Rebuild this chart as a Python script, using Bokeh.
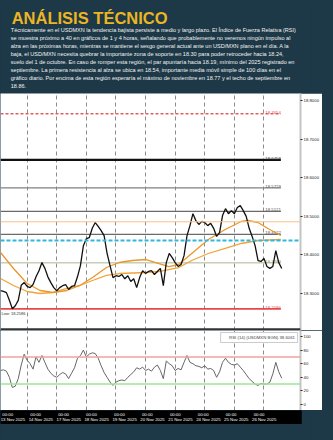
from bokeh.plotting import figure
from bokeh.models import (Range1d, Span, Label, Legend, LegendItem, FixedTicker,
                          NumeralTickFormatter, ColumnDataSource)
from bokeh.layouts import column
from bokeh.embed import file_html
from bokeh.resources import INLINE
from bokeh.core.properties import value

BG = "#1d3846"
FONT = "Liberation Sans"

# ---------------- texts ----------------
title_text = "ANÁLISIS TÉCNICO"
body_lines = [
    "Técnicamente en el USDMXN la tendencia bajista persiste a medio y largo plazo. El Índice de Fuerza Relativa (RSI)",
    "se muestra próximo a 40 en gráficos de 1 y 4 horas, señalando que probablemente no veremos ningún impulso al",
    "alza en las próximas horas, mientras se mantiene el sesgo general actual ante un USD/MXN plano en el día. A la",
    "baja, el USD/MXN necesita quebrar la importante zona de soporte en 18.30 para poder retroceder hacia 18.24,",
    "suelo del 1 de octubre. En caso de romper esta región, el par apuntaría hacia 18.19, mínimo del 2025 registrado en",
    "septiembre. La primera resistencia al alza se ubica en 18.54, importante media móvil simple de 100 días en el",
    "gráfico diario. Por encima de esta región esperaría el máximo de noviembre en 18.77 y el techo de septiembre en",
    "18.86.",
]

# ---------------- x axis (trading days) ----------------
day_index = [0, 1, 2, 3, 4, 5, 6, 7, 8, 9]
date_labels = ["13 Nov 2025", "14 Nov 2025", "17 Nov 2025", "18 Nov 2025", "19 Nov 2025",
               "20 Nov 2025", "21 Nov 2025", "24 Nov 2025", "25 Nov 2025", "26 Nov 2025"]
time_labels = ["00:00"] * 10

# sample times (trading-day units)
t = [round(0.1 * i, 1) for i in range(1, 97)]

price = [18.306, 18.304, 18.301, 18.281, 18.259, 18.267, 18.281, 18.320, 18.327, 18.317,
         18.314, 18.322, 18.342, 18.358, 18.379, 18.364, 18.342, 18.327, 18.314, 18.306,
         18.314, 18.319, 18.322, 18.309, 18.317, 18.319, 18.342, 18.371, 18.423, 18.441,
         18.444, 18.468, 18.483, 18.473, 18.462, 18.449, 18.403, 18.371, 18.340, 18.345,
         18.343, 18.348, 18.337, 18.345, 18.330, 18.337, 18.314, 18.340, 18.358, 18.351,
         18.356, 18.358, 18.348, 18.356, 18.364, 18.319, 18.379, 18.403, 18.392, 18.379,
         18.369, 18.374, 18.397, 18.449, 18.475, 18.506, 18.488, 18.478, 18.486, 18.483,
         18.475, 18.481, 18.468, 18.447, 18.457, 18.501, 18.519, 18.506, 18.514, 18.506,
         18.522, 18.527, 18.514, 18.499, 18.468, 18.447, 18.423, 18.384, 18.382, 18.390,
         18.369, 18.364, 18.369, 18.410, 18.379, 18.3638]

rsi = [50, 51, 49, 40, 25, 27, 38, 58, 74, 65,
       60, 52, 70, 62, 72, 62, 52, 46, 42, 40,
       44, 47, 45, 38, 46, 54, 68, 72, 80, 70,
       74, 76, 75, 68, 57, 47, 40, 33, 28, 33,
       35, 36, 35, 40, 44, 48, 54, 52, 55, 50,
       52, 49, 55, 58, 50, 38, 64, 60, 57, 50,
       53, 51, 62, 72, 62, 60, 57, 56, 54, 57,
       52, 53, 50, 40, 48, 62, 68, 62, 59, 58,
       60, 55, 50, 44, 38, 34, 30, 28, 31, 30,
       30, 33, 45, 62, 48, 38.6061]

ma_fast_t = [0.10, 0.54, 1.00, 1.44, 1.87, 2.34, 2.78, 3.21, 3.68, 4.11, 4.55, 5.02,
             5.45, 5.79, 6.12, 6.56, 7.12, 7.69, 8.23, 8.46, 8.80, 9.13, 9.57]
ma_fast = [18.4052, 18.3636, 18.3247, 18.3065, 18.3013, 18.3065, 18.3195, 18.3403,
           18.3662, 18.3792, 18.3844, 18.3870, 18.3766, 18.3688, 18.3740, 18.4026,
           18.4390, 18.4649, 18.4857, 18.4883, 18.4831, 18.4675, 18.4494]
ma_slow_t = [0.10, 0.54, 1.00, 1.44, 1.87, 2.34, 2.78, 3.21, 3.68, 4.11, 5.02, 5.45,
             6.12, 6.56, 7.12, 7.69, 8.23, 8.80, 9.57]
ma_slow = [18.3377, 18.3195, 18.3039, 18.2987, 18.3013, 18.3117, 18.3195, 18.3325,
           18.3455, 18.3506, 18.3532, 18.3558, 18.3662, 18.3844, 18.4026, 18.4156,
           18.4286, 18.4364, 18.4390]

level_values = [18.7654, 18.6458, 18.5729, 18.5121, 18.4522, 18.3783, 18.2586]
level_labels = ["18.7654", "18.6458", "18.5729", "18.5121", "18.4522", "18.3783", "18.2586"]
level_colors = ["#e06060", "#111111", "#808080", "#6a6a6a", "#6a6a6a", "#a8b890", "#e84848"]
level_text_colors = ["#e05050", "#333333", "#555555", "#555555", "#555555", "#8a9a70", "#e05050"]
level_widths = [1.6, 2.2, 1.3, 1.3, 1.3, 1.0, 1.8]
level_dashes = ["3 2", "solid", "solid", "solid", "solid", "solid", "solid"]
level_end = 9.57

sma100 = 18.4365
orange_level = 18.485
last_price = 18.3638
low_value = 18.2586
rsi_last = 38.6061
rsi_upper = 70
rsi_lower = 30
price_ticks = [18.3, 18.4, 18.5, 18.6, 18.7, 18.8]
rsi_ticks = [0, 20, 40, 60, 80, 100]

# ---------------- geometry ----------------
PX_PER_DAY = 29.9
X0 = 0.1
X1 = X0 + 303 / PX_PER_DAY
PY1 = 18.8 + 7 / 385
PY0 = 18.8 - 230 / 385
RY1 = 100 + 6 / 0.68
RY0 = 100 - 74 / 0.68
TICK_FS = "4.3px"


def style_right_axis(fig):
    ax = fig.yaxis[0]
    ax.axis_line_color = "#c4c4c4"
    ax.axis_line_width = 2
    ax.major_tick_out = 2
    ax.major_tick_in = 0
    ax.major_tick_line_color = "#222222"
    ax.minor_tick_line_color = None
    ax.major_label_standoff = 1
    ax.major_label_text_font_size = TICK_FS
    ax.major_label_text_font = FONT
    ax.major_label_text_color = "#222222"


# ---------------- header ----------------
h = figure(width=333, height=93, x_range=Range1d(0, 333), y_range=Range1d(93, 0),
           x_axis_location=None, y_axis_location=None, output_backend="svg",
           toolbar_location=None, min_border=0, background_fill_color=BG,
           border_fill_color=BG, outline_line_color=None)
h.grid.visible = False
h.text(x=[12], y=[17.5], text=[title_text], text_font=value(FONT), text_font_style="bold",
       text_font_size="16.5px", text_color="#ebb523", text_baseline="alphabetic")
h.text(x=[11] * len(body_lines), y=[29 + 8 * i for i in range(len(body_lines))], text=body_lines,
       text_font=value(FONT), text_font_size="5.55px", text_color="#f2f2f2",
       text_baseline="middle")

# ---------------- price panel ----------------
xr = Range1d(X0, X1)
p = figure(width=322, height=237, x_range=xr, y_range=Range1d(PY0, PY1),
           x_axis_location=None, y_axis_location="right", output_backend="svg",
           toolbar_location=None, min_border_left=0, min_border_right=19,
           min_border_top=0, min_border_bottom=0, background_fill_color="white",
           border_fill_color="white", outline_line_color=None)
style_right_axis(p)
p.yaxis.ticker = FixedTicker(ticks=price_ticks, minor_ticks=[])
p.yaxis.formatter = NumeralTickFormatter(format="0.0000")
p.ygrid.visible = False
p.xgrid.ticker = FixedTicker(ticks=day_index[1:], minor_ticks=[])
p.xgrid.grid_line_color = "#8c8c8c"
p.xgrid.grid_line_dash = "4 3"
p.xgrid.grid_line_width = 1

p.add_layout(Span(location=orange_level, dimension="width", line_color="#f4c48c", line_width=1))
for v, c, w, d in zip(level_values, level_colors, level_widths, level_dashes):
    p.segment(x0=[X0], x1=[level_end], y0=[v], y1=[v], line_color=c, line_width=w, line_dash=d)
p.text(x=[level_end] * len(level_values), y=level_values, text=level_labels,
       text_color=level_text_colors, text_font=value(FONT), text_font_size="4.3px",
       text_align="right", text_baseline="bottom", y_offset=0)
p.text(x=[X0], y=[low_value], text=["Low: %.4f" % low_value], text_font=value(FONT),
       text_font_size="4px", text_color="#333333", text_baseline="top", x_offset=1, y_offset=2)
p.add_layout(Span(location=sma100, dimension="width", line_color="#2fb8dc", line_width=2,
                  line_dash="4 2"))

p.line(ma_slow_t, ma_slow, line_color="#f0a43a", line_width=1.3)
p.line(ma_fast_t, ma_fast, line_color="#e9962a", line_width=1.3)
p.line(t, price, line_color="#111111", line_width=1.3)
p.add_layout(Span(location=PY0 + 0.003, dimension="width", line_color="#333333", line_width=2))

p.add_layout(Label(x=X1, y=sma100, text="%.4f" % sma100, x_offset=1, text_font=FONT,
                   text_font_size=TICK_FS, text_color="white", text_baseline="middle",
                   background_fill_color="#c9872f", padding=1))
p.add_layout(Label(x=X1, y=last_price, text="%.4f" % last_price, x_offset=1, text_font=FONT,
                   text_font_size=TICK_FS, text_color="white", text_baseline="middle",
                   background_fill_color="#111111", padding=1))

# ---------------- RSI panel ----------------
r = figure(width=322, height=80, x_range=xr, y_range=Range1d(RY0, RY1),
           x_axis_location=None, y_axis_location="right", output_backend="svg",
           toolbar_location=None, min_border_left=0, min_border_right=19,
           min_border_top=0, min_border_bottom=0, background_fill_color="white",
           border_fill_color="white", outline_line_color=None)
style_right_axis(r)
r.yaxis.ticker = FixedTicker(ticks=rsi_ticks, minor_ticks=[])
r.ygrid.visible = False
r.xgrid.ticker = FixedTicker(ticks=day_index[1:], minor_ticks=[])
r.xgrid.grid_line_color = "#8c8c8c"
r.xgrid.grid_line_dash = "4 3"
r.add_layout(Span(location=rsi_upper, dimension="width", line_color="#f2a0a0", line_width=1.5))
r.add_layout(Span(location=rsi_lower, dimension="width", line_color="#9be69b", line_width=1.5))
r.line(t, rsi, line_color="#666666", line_width=1)
sq = r.scatter(x=[], y=[], marker="square", color="#111111", size=4)
leg = Legend(items=[LegendItem(label="RSI (14) (USDMXN BGN) %.4f" % rsi_last, renderers=[sq])],
             location="top_right", label_text_font=FONT, label_text_font_size="4.3px",
             glyph_width=4, glyph_height=4, label_height=4, label_standoff=2, padding=2,
             spacing=0, margin=2, border_line_color="#9a9a9a", background_fill_alpha=1)
r.add_layout(leg)
r.add_layout(Label(x=X1, y=rsi_last, text="%.4f" % rsi_last, x_offset=1, text_font=FONT,
                   text_font_size=TICK_FS, text_color="white", text_baseline="middle",
                   background_fill_color="#111111", padding=1))

# ---------------- date bar ----------------
f = figure(width=333, height=30, x_range=Range1d(X0, X0 + 333 / PX_PER_DAY), y_range=Range1d(0, 30),
           x_axis_location=None, y_axis_location=None, output_backend="svg",
           toolbar_location=None, min_border=0, background_fill_color=BG,
           border_fill_color=BG, outline_line_color=None)
f.grid.visible = False
f.quad(left=[X0], right=[X0 + 322 / PX_PER_DAY], bottom=[17], top=[30], color="black")
f.text(x=day_index, y=[26] * 10, text=time_labels, text_font=value(FONT), text_font_size="4.3px",
       text_color="white", text_align="center", text_baseline="middle", x_offset=10)
f.text(x=day_index, y=[21] * 10, text=date_labels, text_font=value(FONT), text_font_size="4.3px",
       text_color="white", text_align="left", text_baseline="middle", x_offset=3)

layout = column(h, p, r, f, styles={"background-color": BG})
open("out.html", "w").write(file_html(layout, INLINE))
